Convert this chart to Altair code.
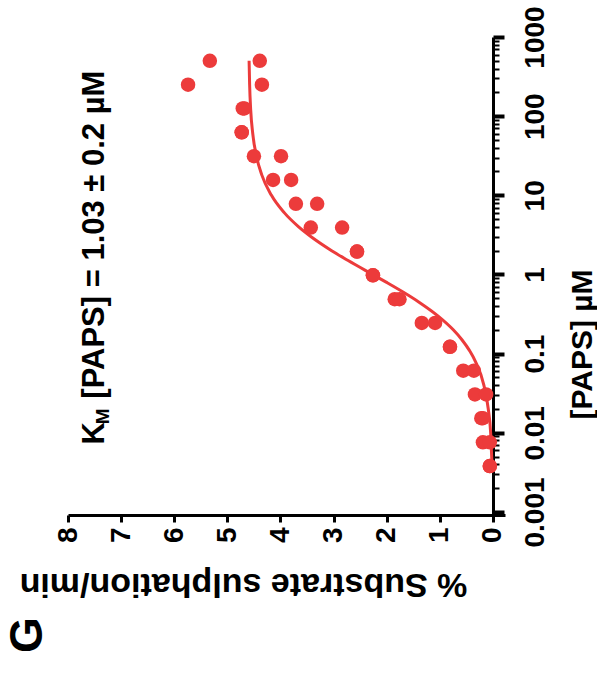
import altair as alt
import pandas as pd

# Measured data: [PAPS] (uM) and % substrate sulphation/min (duplicates)
paps = [500, 500, 250, 250, 125, 125, 62.5, 62.5, 31.25, 31.25, 15.63, 15.63,
        7.81, 7.81, 3.91, 3.91, 1.95, 1.95, 0.977, 0.977, 0.488, 0.488,
        0.244, 0.244, 0.122, 0.122, 0.061, 0.061, 0.0305, 0.0305,
        0.0153, 0.0153, 0.0076, 0.0076, 0.0038, 0.0038]
rate = [5.33, 4.39, 5.74, 4.35, 4.71, 4.68, 4.73, 4.73, 4.50, 3.99, 4.14, 3.80,
        3.71, 3.31, 3.43, 2.84, 2.56, 2.56, 2.26, 2.26, 1.85, 1.76,
        1.34, 1.09, 0.81, 0.81, 0.56, 0.36, 0.34, 0.13,
        0.22, 0.19, 0.19, 0.06, 0.06, 0.06]

# Fitted curve
fit_paps = [0.0038, 0.01, 0.02, 0.04, 0.08, 0.11, 0.15, 0.2, 0.3, 0.45, 0.6, 0.8,
            1.0, 1.5, 2.0, 3.0, 4.0, 6.0, 10, 18, 30, 60, 120, 250, 500]
fit_rate = [0.017, 0.044, 0.089, 0.172, 0.332, 0.444, 0.585, 0.748, 1.038, 1.399,
            1.693, 2.011, 2.266, 2.727, 3.037, 3.424, 3.658, 3.926, 4.170, 4.351,
            4.447, 4.522, 4.561, 4.581, 4.591]

rate_ticks = [0, 1, 2, 3, 4, 5, 6, 7, 8]
paps_major = [0.001, 0.01, 0.1, 1, 10, 100, 1000]
minor_mult = [2, 3, 4, 5, 6, 7, 8, 9]
paps_ticks = sorted(paps_major + [m * v for v in paps_major[:-1] for m in minor_mult])

RED = "#EC3B3B"
FONT = "Liberation Sans"

pts = pd.DataFrame({"paps": paps, "rate": rate})
fit = pd.DataFrame({"paps": fit_paps, "rate": fit_rate})

xscale = alt.Scale(domain=[-0.226, 8], reverse=True, nice=False, zero=False)
yscale = alt.Scale(type="log", domain=[0.000916, 1000], nice=False)

is_major = "abs(log(datum.value)/LN10 - round(log(datum.value)/LN10)) < 0.001"

xaxis = alt.Axis(
    values=rate_ticks, orient="bottom", grid=False,
    domainColor="black", domainWidth=3, tickColor="black", tickWidth=3, tickSize=7,
    labelAngle=270, labelAlign="right", labelBaseline="middle", labelPadding=5,
    labelFont=FONT, labelFontSize=28, labelFontWeight="bold", labelColor="black",
    title="% Substrate sulphation/min", titleAngle=180, titleFont=FONT,
    titleFontSize=34, titleFontWeight="bold", titleColor="black",
    titleX=175, titleY=68, titleAlign="center", titleBaseline="middle",
)

yaxis = alt.Axis(
    values=paps_ticks, orient="right", grid=False, offset=-12,
    domainColor="black", domainWidth=3, tickColor="black",
    tickWidth={"condition": {"test": is_major, "value": 4}, "value": 2},
    tickSize={"condition": {"test": is_major, "value": 11}, "value": 6},
    format="~g",
    labelExpr=f"({is_major}) ? datum.label : ''",
    labelAngle=270, labelAlign="center", labelBaseline="top", labelPadding=17,
    labelOverlap=False, labelBound=False, labelFlush=False,
    labelFont=FONT, labelFontSize=28, labelFontWeight="bold", labelColor="black",
    title="[PAPS] µM", titleAngle=270, titleFont=FONT, titleFontSize=30,
    titleFontWeight="bold", titleColor="black",
    titleX=89, titleY=307, titleAlign="center", titleBaseline="middle",
)

line = alt.Chart(fit).mark_line(color=RED, strokeWidth=3, interpolate="monotone").encode(
    x=alt.X("rate:Q", scale=xscale, axis=xaxis),
    y=alt.Y("paps:Q", scale=yscale, axis=yaxis),
)

points = alt.Chart(pts).mark_circle(color=RED, size=210, opacity=1).encode(
    x=alt.X("rate:Q", scale=xscale),
    y=alt.Y("paps:Q", scale=yscale),
)

k_text = alt.Chart(pd.DataFrame({"t": ["K"]})).mark_text(
    angle=270, align="left", baseline="alphabetic", font=FONT, fontSize=31,
    fontWeight="bold", color="black"
).encode(x=alt.datum(7.32), y=alt.datum(0.0071), text="t:N")

m_text = alt.Chart(pd.DataFrame({"t": ["M"]})).mark_text(
    angle=270, align="left", baseline="alphabetic", font=FONT, fontSize=19,
    fontWeight="bold", color="black"
).encode(x=alt.datum(7.22), y=alt.datum(0.0128), text="t:N")

main_text = alt.Chart(pd.DataFrame({"t": ["[PAPS] = 1.03 ± 0.2 µM"]})).mark_text(
    angle=270, align="left", baseline="alphabetic", font=FONT, fontSize=31,
    fontWeight="bold", color="black"
).encode(x=alt.datum(7.32), y=alt.datum(0.027), text="t:N")

g_text = alt.Chart(pd.DataFrame({"t": ["G"]})).mark_text(
    angle=270, align="center", baseline="middle", font=FONT, fontSize=46,
    fontWeight="bold", color="black"
).encode(x=alt.value(-40), y=alt.value(598), text="t:N")

chart = alt.layer(line, points, k_text, m_text, main_text, g_text).properties(
    width=437, height=478,
    autosize=alt.AutoSizeParams(type="none"),
    padding={"left": 68, "top": 37, "right": 92, "bottom": 160},
    background="white",
).configure_view(stroke=None)

chart.save("out.html", embed_options={"renderer": "svg", "actions": False})
